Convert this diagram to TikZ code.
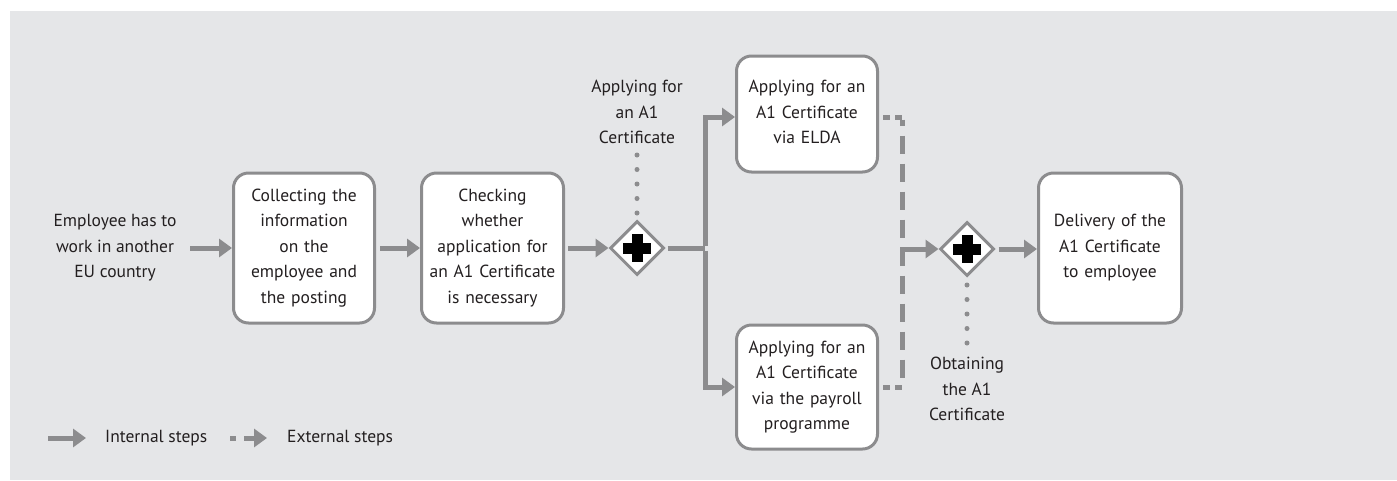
\documentclass[tikz,border=0pt]{standalone}
\usepackage{fontspec}
\setmainfont{PT Sans}
\usetikzlibrary{arrows.meta,shapes.geometric,calc}
\definecolor{bgc}{HTML}{E5E6E8}
\definecolor{linec}{HTML}{8C8C8E}
\definecolor{txtc}{HTML}{231F20}
\tikzset{
  every node/.style={text=txtc,font=\fontsize{17.5}{25.5}\selectfont,inner sep=0pt},
  stepbox/.style={draw=linec,line width=3pt,fill=white,rounded corners=15pt,align=center,text width=140pt},
  gate/.style={diamond,draw=linec,line width=3pt,fill=white,minimum width=54pt,minimum height=54pt,inner sep=0pt},
  lbl/.style={align=center},
  flow/.style={draw=linec,line width=5pt,-{Triangle[length=13pt,width=18pt]}},
  plainflow/.style={draw=linec,line width=5pt},
  extflow/.style={draw=linec,line width=5pt,dash pattern=on 18pt off 10pt},
  extshort/.style={draw=linec,line width=5pt,dash pattern=on 7pt off 5pt},
  dotline/.style={draw=linec,line width=5pt,line cap=round,dash pattern=on 0pt off 14.5pt},
}
\newcommand{\plusmark}[1]{%
  \fill[black] ($(#1)+(-5.5pt,-14pt)$) rectangle ($(#1)+(5.5pt,14pt)$);
  \fill[black] ($(#1)+(-14pt,-5.5pt)$) rectangle ($(#1)+(14pt,5.5pt)$);}
\begin{document}
\begin{tikzpicture}[x=1pt,y=-1pt]
\useasboundingbox (0,0) rectangle (1397,480);
\fill[bgc] (10,11) rectangle (1397,480);

\node[lbl] (src) at (115,248) {Employee has to\\work in another\\EU country};
\node[stepbox,minimum height=150pt,text width=141pt] (b1) at (304,248) {Collecting the\\information\\on the\\employee and\\the posting};
\node[stepbox,minimum height=150pt,text width=142pt] (b2) at (492.5,248) {Checking\\whether\\application for\\an A1 Certificate\\is necessary};
\node[gate] (g1) at (637,248) {};
\node[stepbox,minimum height=116pt,text width=141pt] (elda) at (807,114) {\raisebox{0pt}[\height][\depth]{}Applying for an\\A1 Certificate\\via ELDA\vspace*{4pt}};
\node[stepbox,minimum height=124pt,text width=141pt] (pay) at (807,387) {Applying for an\\A1 Certificate\\via the payroll\\programme};
\node[gate] (g2) at (967,249) {};
\node[stepbox,minimum height=150pt,text width=143pt] (del) at (1110,248) {Delivery of the\\A1 Certificate\\to employee};
\node[lbl] (l1) at (637,112) {Applying for\\an A1\\Certificate};
\node[lbl] (l2) at (967,389) {Obtaining\\the A1\\Certificate};

\plusmark{g1}
\plusmark{g2}

% internal flows
\draw[flow] (190,248) -- (b1.west);
\draw[flow] (b1.east) ++(4pt,0) -- (b2.west);
\draw[flow] (b2.east) ++(3pt,0) -- (g1.west);
\coordinate (j) at (705,248);
\draw[plainflow] (g1.east) ++(2pt,0) -- (j);
\draw[flow] (j) ++(0,2.5pt) |- ($(elda.west)+(0,-3pt)$);
\draw[flow] (j) ++(0,-2.5pt) |- (pay.west);

% external flows
\coordinate (ec) at (902.5,249);
\draw[extshort] ($(elda.east)+(4pt,-3pt)$) -- ($(ec |- elda.east)+(2.5pt,-3pt)$);
\draw[extflow,dash phase=12pt] ($(ec |- elda.east)+(0,-5.5pt)$) -- ($(ec |- pay.east)+(0,2.5pt)$);
\draw[extshort] ($(pay.east)+(4pt,0)$) -- ($(ec |- pay.east)+(2.5pt,0)$);
\draw[flow] (ec) ++(-2.5pt,0) -- (g2.west);
\draw[flow] (g2.east) ++(3pt,0) -- (del.west |- 0,249);

% dotted annotations
\draw[dotline] (637,155) -- (g1.north);
\draw[dotline] (967,285) -- (967,348);

% legend
\coordinate (la) at (48,438);
\coordinate (lb) at (86,438);
\draw[flow] (la) -- (lb);
\node[anchor=west] (lt1) at (105,438) {Internal steps};
\coordinate (lc) at (230,438);
\coordinate (ld) at (236,438);
\draw[plainflow] (lc) -- (ld);
\coordinate (le) at (244,438);
\coordinate (lf) at (267,438);
\draw[flow] (le) -- (lf);
\node[anchor=west] (lt2) at (287,438) {External steps};
\end{tikzpicture}
\end{document}
